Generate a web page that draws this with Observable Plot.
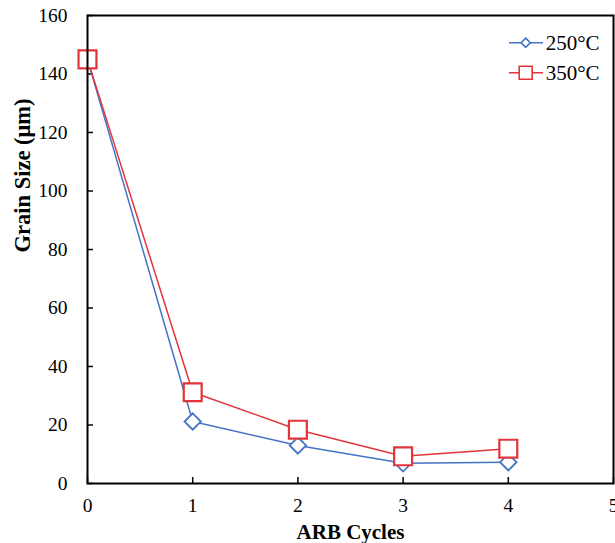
<!DOCTYPE html>
<html><head><meta charset="utf-8">
<script src="https://cdn.jsdelivr.net/npm/d3@7"></script>
<script src="https://cdn.jsdelivr.net/npm/@observablehq/plot@0.6"></script>
<style>
body{margin:0;background:#fff;}
#wrap{position:relative;width:615px;height:543px;}
#chart g[aria-label$="axis label"]{font-weight:bold;font-size:21px;}
#legend{position:absolute;left:500px;top:25px;}
#legend text{font-family:'Liberation Serif','Times New Roman',serif;font-size:21px;fill:#000;}
</style>
</head><body>
<div id="wrap"><div id="chart"></div>
<svg id="legend" width="115" height="65"></svg></div>
<script>
const cycles = [0, 1, 2, 3, 4];
const grain250 = [145, 21.2, 13.0, 6.9, 7.3];
const grain350 = [145, 31.2, 18.4, 9.3, 11.9];
const xTicks = [0, 1, 2, 3, 4, 5];
const yTicks = [0, 20, 40, 60, 80, 100, 120, 140, 160];
const seriesNames = ["250°C", "350°C"];
const xTitle = "ARB Cycles";
const yTitle = "Grain Size (μm)";
const blue = "#4472C4", red = "#E3343A";

const d250 = cycles.map((c, i) => ({c, g: grain250[i]}));
const d350 = cycles.map((c, i) => ({c, g: grain350[i]}));

const chart = Plot.plot({
  width: 615, height: 543,
  marginLeft: 87, marginRight: 2, marginTop: 15, marginBottom: 60,
  x: {domain: [0, 5]},
  y: {domain: [0, 160]},
  style: {fontFamily: "'Liberation Serif','Times New Roman',serif", fontSize: "19.5px", color: "#000", background: "#fff"},
  marks: [
    Plot.axisX({ticks: xTicks, tickSize: 0, tickPadding: 15, tickFormat: d => String(d),
      label: xTitle, labelAnchor: "center", labelOffset: 55, labelArrow: "none"}),
    Plot.axisY({ticks: yTicks, tickSize: 0, tickPadding: 20, tickFormat: d => String(d), label: null}),
    Plot.text([yTitle], {text: d => d, frameAnchor: "left", rotate: -90, dx: -65, dy: 3,
      fontWeight: "bold", fontSize: 22.5}),
    Plot.ruleX(xTicks, {x: d => d, insetTop: 462, stroke: "#000", strokeWidth: 1.5}),
    Plot.ruleY(yTicks, {y: d => d, insetRight: 520, stroke: "#000", strokeWidth: 1.5}),
    Plot.line(d250, {x: "c", y: "g", stroke: blue, strokeWidth: 1.5}),
    Plot.dot(d250, {x: "c", y: "g", symbol: "diamond2", r: 7.4, stroke: blue, fill: "#fff", strokeWidth: 1.8}),
    Plot.line(d350, {x: "c", y: "g", stroke: red, strokeWidth: 1.5}),
    Plot.dot(d350, {x: "c", y: "g", symbol: "square2", r: 11.4, stroke: red, fill: "#fff", strokeWidth: 2.2}),
    Plot.frame({stroke: "#000", strokeWidth: 2})
  ]
});
document.getElementById("chart").appendChild(chart);

// legend
const lg = d3.select("#legend");
const rows = [
  {name: seriesNames[0], color: blue, sym: d3.symbolDiamond2, size: 54, y: 17.7},
  {name: seriesNames[1], color: red, sym: d3.symbolSquare2, size: 215, y: 47.7}
];
rows.forEach(r => {
  lg.append("line").attr("x1", 9).attr("x2", 43).attr("y1", r.y).attr("y2", r.y)
    .attr("stroke", r.color).attr("stroke-width", 1.5);
  lg.append("path").attr("d", d3.symbol(r.sym, r.size)()).attr("transform", `translate(25.7,${r.y})`)
    .attr("fill", "#fff").attr("stroke", r.color).attr("stroke-width", 1.6);
  lg.append("text").attr("x", 45.7).attr("y", r.y + 7).text(r.name);
});
</script>
</body></html>
